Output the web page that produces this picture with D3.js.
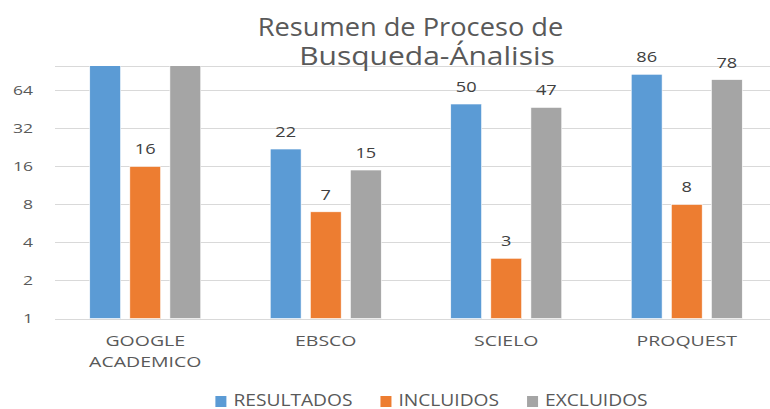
<!DOCTYPE html>
<html>
<head>
<meta charset="utf-8">
<script src="https://cdn.jsdelivr.net/npm/d3@7"></script>
<style>
body { margin: 0; background: #fff; }
svg { display: block; font-family: "Open Sans", sans-serif; }
</style>
</head>
<body>
<main></main>
<script>
// data
const categories = [["GOOGLE", "ACADEMICO"], ["EBSCO"], ["SCIELO"], ["PROQUEST"]];
const seriesNames = ["RESULTADOS", "INCLUIDOS", "EXCLUIDOS"];
const resultados = [180, 22, 50, 86];
const incluidos = [16, 7, 3, 8];
const excluidos = [164, 15, 47, 78];
const tickValues = [1, 2, 4, 8, 16, 32, 64];
const colors = ["#5b9bd5", "#ed7d31", "#a5a5a5"];

const w = 770, h = 409,
	plotLeft = 55, plotRight = 777, plotTop = 66, plotBottom = 318.5;

const series = [resultados, incluidos, excluidos];
const dataset = categories.map((c, i) => ({
	cat: c.join(" "),
	lines: c,
	values: series.map((s, j) => ({ key: seriesNames[j], value: s[i], idx: j }))
}));

// text in the reference is stretched sideways
function stretch(sel, sx) {
	sel.each(function () {
		const t = d3.select(this);
		const x = +t.attr("x") || 0, y = +t.attr("y") || 0;
		t.attr("transform", `translate(${x},${y}) scale(${sx},1) translate(${-x},${-y})`);
	});
}

const svg = d3.select("main").append("svg")
	.attr("width", w)
	.attr("height", h);

const x0 = d3.scaleBand()
	.domain(dataset.map(d => d.cat))
	.range([plotLeft, plotRight])
	.paddingInner(0.385)
	.paddingOuter(0.1925);

const x1 = d3.scaleBand()
	.domain(seriesNames)
	.range([0, x0.bandwidth()])
	.paddingInner(0.23);

const yScale = d3.scaleLog().base(2)
	.domain([1, 100])
	.range([plotBottom, plotTop]);

// gridlines
const gridVals = tickValues.concat([100]);
svg.append("g").selectAll("line")
	.data(gridVals)
	.enter().append("line")
	.attr("x1", plotLeft).attr("x2", w)
	.attr("y1", d => Math.round(yScale(d)) + 0.5)
	.attr("y2", d => Math.round(yScale(d)) + 0.5)
	.attr("stroke", "#d9d9d9")
	.attr("stroke-width", 1);

// y axis labels
const yAxis = d3.axisLeft(yScale).tickValues(tickValues).tickFormat(d3.format("d")).tickSize(0);
const yg = svg.append("g")
	.attr("transform", "translate(" + plotLeft + ",0)")
	.call(yAxis);
yg.select(".domain").remove();
yg.selectAll("text")
	.attr("x", -22)
	.attr("fill", "#595959")
	.style("font-size", "13px")
	.style("font-family", "'Open Sans', sans-serif");
stretch(yg.selectAll("text"), 1.35);

svg.append("defs").append("clipPath").attr("id", "plot")
	.append("rect").attr("x", 0).attr("y", plotTop).attr("width", w).attr("height", plotBottom - plotTop + 1);

const groups = svg.append("g").attr("clip-path", "url(#plot)")
	.selectAll("g")
	.data(dataset)
	.enter().append("g")
	.attr("transform", d => "translate(" + x0(d.cat) + ",0)");

groups.selectAll("rect")
	.data(d => d.values)
	.enter().append("rect")
	.attr("x", d => x1(d.key))
	.attr("width", x1.bandwidth())
	.attr("y", d => yScale(d.value))
	.attr("height", d => plotBottom - yScale(d.value))
	.attr("fill", d => colors[d.idx])
	.attr("stroke", "#fff")
	.attr("stroke-width", 0.6);

// value labels (hidden when the bar runs past the top)
const labels = svg.append("g").selectAll("g")
	.data(dataset)
	.enter().append("g")
	.attr("transform", d => "translate(" + x0(d.cat) + ",0)");
labels.selectAll("text")
	.data(d => d.values.filter(v => v.value <= 100))
	.enter().append("text")
	.attr("x", d => x1(d.key) + x1.bandwidth() / 2)
	.attr("y", d => yScale(d.value) - 12)
	.attr("text-anchor", "middle")
	.attr("fill", "#404040")
	.style("font-size", "14px")
	.text(d => d.value);
stretch(labels.selectAll("text"), 1.3);

// category labels
const cats = svg.append("g").selectAll("text")
	.data(dataset)
	.enter().append("text")
	.attr("x", d => x0(d.cat) + x0.bandwidth() / 2)
	.attr("y", 346)
	.attr("text-anchor", "middle")
	.attr("fill", "#595959")
	.style("font-size", "15px");
cats.selectAll("tspan")
	.data(d => d.lines.map(l => ({ l, x: x0(d.cat) + x0.bandwidth() / 2 })))
	.enter().append("tspan")
	.attr("x", d => d.x)
	.attr("dy", (d, i) => i ? 21 : 0)
	.text(d => d.l);
stretch(cats, 1.3);

// title, two lines
const t1 = svg.append("text")
	.attr("x", 410.5)
	.attr("y", 36)
	.attr("text-anchor", "middle")
	.attr("fill", "#595959")
	.style("font-size", "25px")
	.text("Resumen de Proceso de");
stretch(t1, 1.09);
const t2 = svg.append("text")
	.attr("x", 427)
	.attr("y", 65)
	.attr("text-anchor", "middle")
	.attr("fill", "#595959")
	.style("font-size", "25px")
	.text("Busqueda-Ánalisis");
stretch(t2, 1.2);

// legend
const legSx = 1.2;
const legend = svg.append("g");
const items = legend.selectAll("g")
	.data(seriesNames)
	.enter().append("g");
items.append("rect")
	.attr("width", 11).attr("height", 11)
	.attr("y", 396)
	.attr("fill", (d, i) => colors[i]);
items.append("text")
	.attr("x", 18)
	.attr("y", 406.5)
	.attr("fill", "#595959")
	.style("font-size", "16px")
	.text(d => d);
stretch(items.selectAll("text"), legSx);
let cx = 0;
items.each(function () {
	const g = d3.select(this);
	g.attr("transform", "translate(" + cx + ",0)");
	cx += 18 + g.select("text").node().getComputedTextLength() * legSx + 28;
});
const legW = cx - 28;
legend.attr("transform", "translate(" + (431.5 - legW / 2) + ",0)");
</script>
</body>
</html>
